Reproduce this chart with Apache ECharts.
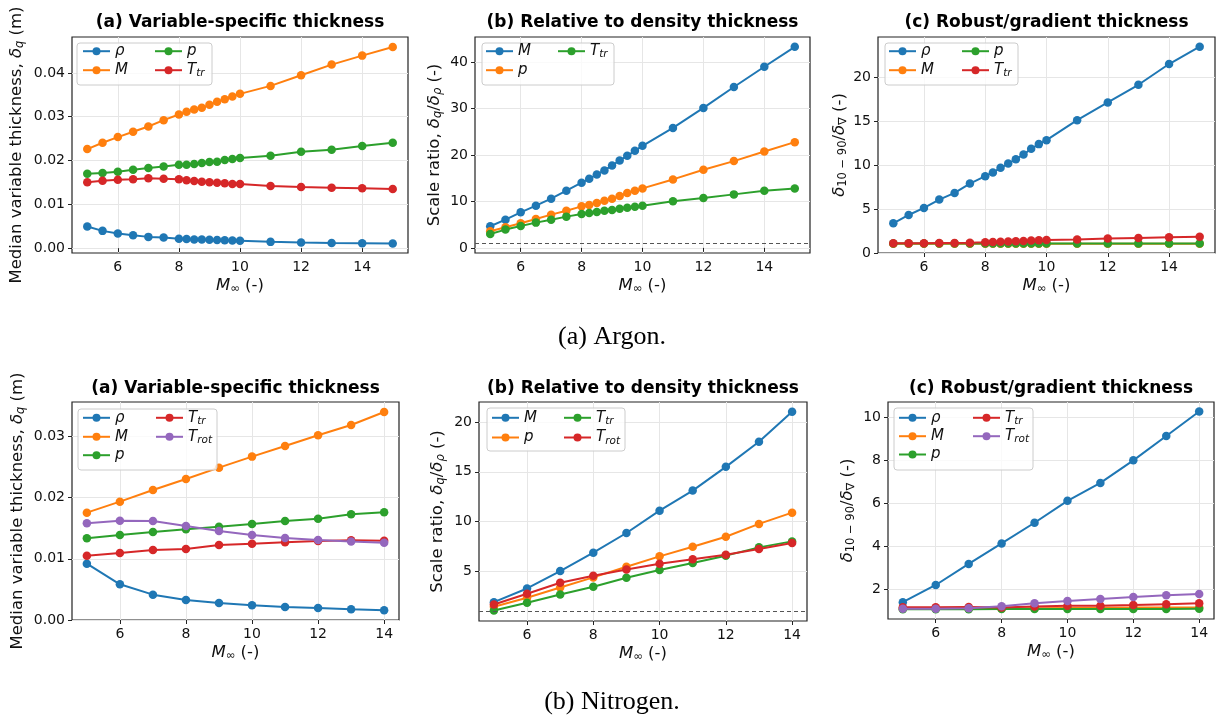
<!DOCTYPE html>
<html><head><meta charset="utf-8">
<script src="https://cdn.jsdelivr.net/npm/echarts@6/dist/echarts.min.js"></script>
<style>html,body{margin:0;padding:0;background:#fff}#c{width:1225px;height:720px}</style>
</head><body><div id="c"></div>
<script>
// ---------------- DATA ----------------
const xAr = [5,5.5,6,6.5,7,7.5,8,8.25,8.5,8.75,9,9.25,9.5,9.75,10,11,12,13,14,15];
const xN2 = [5,6,7,8,9,10,11,12,13,14];
const xTicks = [6,8,10,12,14];

// Argon (a) variable-specific thickness (m)
const arA_rho = [0.00493,0.00395,0.00334,0.00296,0.00258,0.00243,0.00213,0.0021,0.0020,0.00197,0.0019,0.00185,0.0018,0.00175,0.0017,0.00144,0.00129,0.0012,0.00114,0.00106];
const arA_M   = [0.02262,0.02406,0.02535,0.02657,0.02778,0.02922,0.03051,0.03112,0.03165,0.03203,0.03271,0.0334,0.034,0.03461,0.03522,0.03704,0.03947,0.0419,0.04395,0.04592];
const arA_p   = [0.0170,0.01715,0.01746,0.01791,0.01829,0.01867,0.01905,0.01905,0.0192,0.01943,0.01966,0.01973,0.02011,0.02034,0.02057,0.0211,0.02201,0.02247,0.0233,0.02406];
const arA_Ttr = [0.01503,0.01541,0.01564,0.01571,0.01594,0.01586,0.01571,0.01548,0.01533,0.01518,0.01503,0.01495,0.0148,0.01465,0.01465,0.01419,0.01397,0.01381,0.01366,0.01351];
// Argon (b) scale ratio
const arB_M   = [4.65,6.08,7.66,9.09,10.59,12.31,14.03,14.88,15.81,16.67,17.75,18.82,19.82,20.89,21.97,25.83,30.13,34.63,39.0,43.29];
const arB_p   = [3.58,4.44,5.3,6.23,7.16,8.01,8.94,9.23,9.66,10.16,10.59,11.16,11.81,12.31,12.81,14.74,16.82,18.68,20.75,22.76];
const arB_Ttr = [3.0,3.94,4.72,5.44,6.08,6.73,7.3,7.51,7.73,8.01,8.16,8.44,8.66,8.87,9.09,10.02,10.73,11.52,12.31,12.81];
// Argon (c) robust/gradient thickness
const arC_rho = [3.38,4.33,5.13,6.08,6.84,7.91,8.75,9.16,9.70,10.19,10.68,11.22,11.86,12.40,12.85,15.13,17.15,19.16,21.52,23.5];
const arC_M   = [1.04,1.04,1.04,1.04,1.04,1.04,1.04,1.04,1.04,1.04,1.04,1.04,1.04,1.04,1.05,1.05,1.05,1.05,1.05,1.05];
const arC_p   = [1.07,1.07,1.07,1.07,1.07,1.07,1.07,1.07,1.07,1.07,1.08,1.08,1.08,1.08,1.08,1.08,1.08,1.09,1.09,1.09];
const arC_Ttr = [1.1,1.1,1.11,1.13,1.15,1.18,1.23,1.26,1.29,1.32,1.35,1.38,1.41,1.44,1.47,1.55,1.64,1.71,1.78,1.85];

// Nitrogen (a)
const n2A_rho  = [0.0092,0.00583,0.00414,0.00327,0.00278,0.0024,0.00212,0.00196,0.00174,0.00158];
const n2A_M    = [0.01753,0.01933,0.02123,0.02303,0.02488,0.02668,0.02842,0.03016,0.03185,0.03397];
const n2A_p    = [0.01334,0.01388,0.01437,0.01481,0.01524,0.01568,0.01617,0.01655,0.01726,0.01759];
const n2A_Ttr  = [0.01051,0.01094,0.01143,0.0116,0.01225,0.01247,0.01269,0.0129,0.01301,0.01296];
const n2A_Trot = [0.01579,0.01622,0.01617,0.01535,0.01454,0.01388,0.01339,0.01307,0.0128,0.01263];
// Nitrogen (b)
const n2B_M    = [1.94,3.31,5.06,6.9,8.87,11.11,13.12,15.5,18.01,21.02];
const n2B_p    = [1.47,2.38,3.41,4.42,5.49,6.53,7.5,8.5,9.78,10.91];
const n2B_Ttr  = [1.1,1.87,2.71,3.48,4.39,5.16,5.86,6.6,7.43,8.03];
const n2B_Trot = [1.71,2.78,3.88,4.59,5.22,5.79,6.23,6.7,7.26,7.87];
// Nitrogen (c)
const n2C_rho  = [1.40,2.2,3.18,4.13,5.09,6.11,6.94,7.99,9.12,10.26];
const n2C_M    = [1.1,1.1,1.1,1.11,1.12,1.13,1.14,1.15,1.15,1.16];
const n2C_p    = [1.07,1.07,1.07,1.08,1.08,1.08,1.09,1.09,1.09,1.10];
const n2C_Ttr  = [1.17,1.17,1.18,1.15,1.2,1.23,1.24,1.27,1.31,1.35];
const n2C_Trot = [1.1,1.1,1.12,1.21,1.35,1.46,1.55,1.64,1.72,1.78];

// y ticks
const yTicksA1 = [0,0.01,0.02,0.03,0.04];
const yTicksB1 = [0,10,20,30,40];
const yTicksC1 = [0,5,10,15,20];
const yTicksA2 = [0,0.01,0.02,0.03];
const yTicksB2 = [5,10,15,20];
const yTicksC2 = [2,4,6,8,10];

const titles = ['(a) Variable-specific thickness','(b) Relative to density thickness','(c) Robust/gradient thickness'];
const captions = ['(a) Argon.','(b) Nitrogen.'];

// ---------------- STYLE / LAYOUT ----------------
const C = {b:'#1f77b4', o:'#ff7f0e', g:'#2ca02c', r:'#d62728', v:'#9467bd'};
const FONT = 'DejaVu Sans';
const TXT = '#111';
const rich = {
  n:{fontFamily:FONT,fontSize:16.5,color:TXT},
  i:{fontFamily:FONT,fontSize:16.5,fontStyle:'italic',color:TXT},
  s:{fontFamily:FONT,fontSize:11.5,fontStyle:'italic',color:TXT,padding:[7,0,0,0]},
  u:{fontFamily:FONT,fontSize:11.5,color:TXT,padding:[7,0,0,0]}
};
const legRich = {
  i:{fontFamily:FONT,fontSize:15,fontStyle:'italic',color:TXT},
  s:{fontFamily:FONT,fontSize:10.5,fontStyle:'italic',color:TXT,padding:[7,0,0,0]}
};
const legLabel = {'ρ':'{i|ρ}','M':'{i|M}','p':'{i|p}','Ttr':'{i|T}{s|tr}','Trot':'{i|T}{s|rot}'};

const panels = [
  {grid:{left:72,top:37,width:336,height:216}, x:[4.5,15.5], y:[-0.0011,0.0482], yt:yTicksA1, dec:2, xs:xAr,
   yname:'{n|Median variable thickness, }{i|δ}{s|q}{n| (m)}', ygap:46,
   series:[['ρ',arA_rho,C.b],['M',arA_M,C.o],['p',arA_p,C.g],['Ttr',arA_Ttr,C.r]],
   leg:[[82,52.7],[82,71.7],[154,52.7],[154,71.7]], frame:[77,43,135,42]},
  {grid:{left:475,top:37,width:335,height:216}, x:[4.5,15.5], y:[-1.1,45.4], yt:yTicksB1, dec:0, xs:xAr,
   yname:'{n|Scale ratio, }{i|δ}{s|q}{n|/}{i|δ}{s|ρ}{n| (-)}', ygap:31, dashed:true,
   series:[['M',arB_M,C.b],['p',arB_p,C.o],['Ttr',arB_Ttr,C.g]],
   leg:[[485,52.7],[485,71.7],[557,52.7]], frame:[482,43,132,42]},
  {grid:{left:878,top:37,width:337,height:216}, x:[4.5,15.5], y:[0,24.6], yt:yTicksC1, dec:0, xs:xAr,
   yname:'{i|δ}{u|10 − 90}{n|/}{i|δ}{u|∇}{n| (-)}', ygap:27,
   series:[['ρ',arC_rho,C.b],['M',arC_M,C.o],['p',arC_p,C.g],['Ttr',arC_Ttr,C.r]],
   leg:[[888,52.7],[888,71.7],[961,52.7],[961,71.7]], frame:[885,43,133,42]},
  {grid:{left:72,top:402,width:327,height:218}, x:[4.55,14.45], y:[0,0.0356], yt:yTicksA2, dec:2, xs:xN2,
   yname:'{n|Median variable thickness, }{i|δ}{s|q}{n| (m)}', ygap:45,
   series:[['ρ',n2A_rho,C.b],['M',n2A_M,C.o],['p',n2A_p,C.g],['Ttr',n2A_Ttr,C.r],['Trot',n2A_Trot,C.v]],
   leg:[[82,419.3],[82,438.3],[82,456.7],[155,419.3],[155,438.3]], frame:[78,409,139,61]},
  {grid:{left:479,top:402,width:328,height:219}, x:[4.55,14.45], y:[0.05,22], yt:yTicksB2, dec:0, xs:xN2,
   yname:'{n|Scale ratio, }{i|δ}{s|q}{n|/}{i|δ}{s|ρ}{n| (-)}', ygap:32, dashed:true,
   series:[['M',n2B_M,C.b],['p',n2B_p,C.o],['Ttr',n2B_Ttr,C.g],['Trot',n2B_Trot,C.r]],
   leg:[[491,419.3],[491,439],[563,419.3],[563,439]], frame:[487,408,138,43]},
  {grid:{left:888,top:402,width:326,height:217}, x:[4.55,14.45], y:[0.62,10.7], yt:yTicksC2, dec:0, xs:xN2,
   yname:'{i|δ}{u|10 − 90}{n|/}{i|δ}{u|∇}{n| (-)}', ygap:31,
   series:[['ρ',n2C_rho,C.b],['M',n2C_M,C.o],['p',n2C_p,C.g],['Ttr',n2C_Ttr,C.r],['Trot',n2C_Trot,C.v]],
   leg:[[898,419.3],[898,437.7],[898,456],[972,419.3],[972,437.7]], frame:[894,408,139,62]}
];

const grid=[], xAxis=[], yAxis=[], series=[], legend=[], graphic=[];
panels.forEach((P,k)=>{
  grid.push(Object.assign({show:true,borderColor:'#222',borderWidth:1.2,backgroundColor:'#fff'},P.grid));
  const split = {show:true,lineStyle:{color:'#e6e6e6',width:1}};
  xAxis.push({type:'value',gridIndex:k,min:P.x[0],max:P.x[1],
    name:'{i|M}{u|∞}{n| (-)}',nameLocation:'middle',nameGap:23,nameTextStyle:{rich:rich},
    axisLine:{show:false},
    axisTick:{show:true,length:4,customValues:xTicks,lineStyle:{color:'#222'}},
    axisLabel:{customValues:xTicks,margin:7,fontFamily:FONT,fontSize:14,color:TXT},
    splitLine:split});
  yAxis.push({type:'value',gridIndex:k,min:P.y[0],max:P.y[1],
    name:P.yname,nameLocation:'middle',nameRotate:90,nameGap:P.ygap,nameTextStyle:{rich:rich},
    axisLine:{show:false},
    axisTick:{show:true,length:4,customValues:P.yt,lineStyle:{color:'#222'}},
    axisLabel:{customValues:P.yt,margin:7,fontFamily:FONT,fontSize:14,color:TXT,
      formatter:(v)=>P.dec?Number(v).toFixed(P.dec):String(Math.round(v*100)/100)},
    splitLine:split});
  P.series.forEach((s,j)=>{
    const nm = 'P'+k+':'+s[0];
    const ser = {type:'line',name:nm,xAxisIndex:k,yAxisIndex:k,
      data:P.xs.map((x,i)=>[x,s[1][i]]),
      symbol:'circle',symbolSize:8.5,showSymbol:true,color:s[2],
      lineStyle:{width:2,color:s[2]},itemStyle:{color:s[2]},animation:false,z:2+j*0.01};
    if(P.dashed && j===0){
      ser.markLine={silent:true,symbol:['none','none'],label:{show:false},
        lineStyle:{type:[4,3],color:'#555',width:1},data:[{yAxis:1}],animation:false};
    }
    series.push(ser);
    const L = P.leg[j];
    legend.push({data:[nm],left:L[0],top:L[1]-9,padding:0,itemWidth:27,itemHeight:10,itemGap:0,
      selectedMode:false,z:5,
      formatter:(name)=>legLabel[name.split(':')[1]],
      textStyle:{rich:legRich,fontFamily:FONT,fontSize:15,color:TXT}});
  });
  const F=P.frame;
  graphic.push({type:'rect',z:4,shape:{x:F[0],y:F[1],width:F[2],height:F[3],r:3},
    style:{fill:'rgba(255,255,255,0.8)',stroke:'#cccccc',lineWidth:1}});
  const cx = P.grid.left + P.grid.width/2;
  const cy = k<3 ? 23 : 389;
  graphic.push({type:'text',z:10,x:cx,y:cy,style:{text:titles[k%3],font:'bold 17px "DejaVu Sans"',fill:'#000',
    align:'center',verticalAlign:'middle',textAlign:'center',textVerticalAlign:'middle'}});
});
graphic.push({type:'text',z:10,x:612,y:337,style:{text:captions[0],font:'26px "Liberation Serif"',fill:'#000',align:'center',verticalAlign:'middle',textAlign:'center',textVerticalAlign:'middle'}});
graphic.push({type:'text',z:10,x:612,y:702,style:{text:captions[1],font:'26px "Liberation Serif"',fill:'#000',align:'center',verticalAlign:'middle',textAlign:'center',textVerticalAlign:'middle'}});

const chart = echarts.init(document.getElementById('c'),null,{renderer:'canvas'});
chart.setOption({animation:false,backgroundColor:'#fff',grid,xAxis,yAxis,series,legend,graphic});
</script></body></html>
